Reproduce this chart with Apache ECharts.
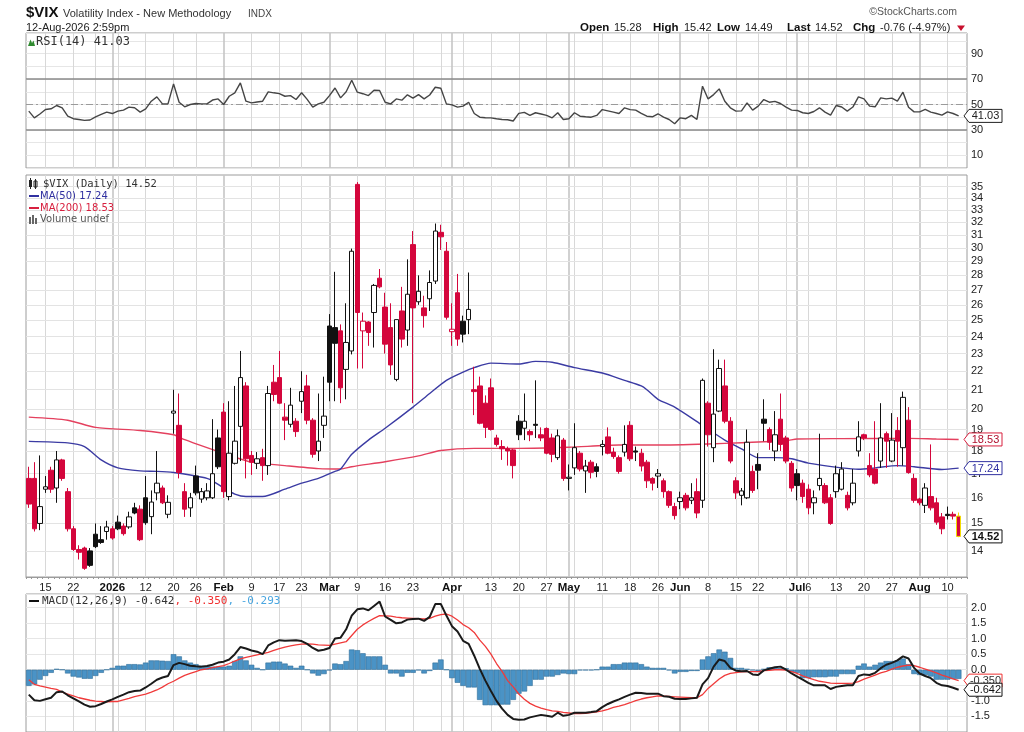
<!DOCTYPE html>
<html><head><meta charset="utf-8">
<script src="https://cdn.jsdelivr.net/npm/echarts@6/dist/echarts.min.js"></script>
<style>html,body{margin:0;padding:0;background:#fff}#c{width:1024px;height:732px}</style>
</head><body><div id="c"></div>
<script>
// ---------- categories (trading days; last one is an empty pad day) ----------
const dates = [
'2025-12-10','2025-12-11','2025-12-12','2025-12-15','2025-12-16','2025-12-17','2025-12-18','2025-12-19','2025-12-22','2025-12-23','2025-12-24','2025-12-26','2025-12-29','2025-12-30','2025-12-31',
'2026-01-02','2026-01-05','2026-01-06','2026-01-07','2026-01-08','2026-01-09','2026-01-12','2026-01-13','2026-01-14','2026-01-15','2026-01-16','2026-01-20','2026-01-21','2026-01-22','2026-01-23','2026-01-26','2026-01-27','2026-01-28','2026-01-29','2026-01-30',
'2026-02-02','2026-02-03','2026-02-04','2026-02-05','2026-02-06','2026-02-09','2026-02-10','2026-02-11','2026-02-12','2026-02-13','2026-02-17','2026-02-18','2026-02-19','2026-02-20','2026-02-23','2026-02-24','2026-02-25','2026-02-26','2026-02-27',
'2026-03-02','2026-03-03','2026-03-04','2026-03-05','2026-03-06','2026-03-09','2026-03-10','2026-03-11','2026-03-12','2026-03-13','2026-03-16','2026-03-17','2026-03-18','2026-03-19','2026-03-20','2026-03-23','2026-03-24','2026-03-25','2026-03-26','2026-03-27','2026-03-30','2026-03-31',
'2026-04-01','2026-04-02','2026-04-06','2026-04-07','2026-04-08','2026-04-09','2026-04-10','2026-04-13','2026-04-14','2026-04-15','2026-04-16','2026-04-17','2026-04-20','2026-04-21','2026-04-22','2026-04-23','2026-04-24','2026-04-27','2026-04-28','2026-04-29','2026-04-30',
'2026-05-01','2026-05-04','2026-05-05','2026-05-06','2026-05-07','2026-05-08','2026-05-11','2026-05-12','2026-05-13','2026-05-14','2026-05-15','2026-05-18','2026-05-19','2026-05-20','2026-05-21','2026-05-22','2026-05-26','2026-05-27','2026-05-28','2026-05-29',
'2026-06-01','2026-06-02','2026-06-03','2026-06-04','2026-06-05','2026-06-08','2026-06-09','2026-06-10','2026-06-11','2026-06-12','2026-06-15','2026-06-16','2026-06-17','2026-06-18','2026-06-22','2026-06-23','2026-06-24','2026-06-25','2026-06-26','2026-06-29','2026-06-30',
'2026-07-01','2026-07-02','2026-07-06','2026-07-07','2026-07-08','2026-07-09','2026-07-10','2026-07-13','2026-07-14','2026-07-15','2026-07-16','2026-07-17','2026-07-20','2026-07-21','2026-07-22','2026-07-23','2026-07-24','2026-07-27','2026-07-28','2026-07-29','2026-07-30','2026-07-31',
'2026-08-03','2026-08-04','2026-08-05','2026-08-06','2026-08-07','2026-08-10','2026-08-11','2026-08-12','2026-08-13'];

// ---------- OHLC ----------
const open = [16.8,16.8,15.0,16.35,17.15,16.4,17.6,16.25,14.8,14.05,
14.1,14.0,14.6,14.4,14.7,14.8,15.05,14.9,14.87,15.6,
15.55,16.0,15.26,16.2,16.4,15.35,19.8,19.2,16.25,15.6,
16.9,15.95,16.0,16.0,18.6,19.85,16.05,17.45,19.15,21.2,
17.8,17.45,17.7,17.35,21.4,21.65,19.6,19.25,19.4,20.4,
21.2,19.45,18.0,19.2,24.65,24.55,24.35,22.1,23.15,35.2,
24.35,24.9,25.5,27.8,25.85,24.55,21.55,25.6,24.4,30.25,
26.2,25.8,26.4,27.6,31.2,29.75,24.3,26.8,24.95,25.05,
21.0,21.2,20.3,21.1,18.6,18.2,18.1,18.05,19.4,19.06,
18.9,19.25,18.75,19.05,18.6,17.7,18.5,16.8,17.25,17.9,
17.12,17.5,17.3,18.2,18.65,17.95,17.7,17.95,19.2,18.0,
17.9,17.5,16.8,16.9,16.7,16.25,15.65,15.85,16.1,15.9,
16.25,15.9,20.3,18.15,19.9,21.2,19.4,16.7,16.1,16.0,
17.1,17.4,19.5,19.0,18.0,19.5,18.6,17.45,17.0,16.6,
16.35,15.8,16.5,16.5,16.0,16.25,16.35,16.1,15.8,18.0,
18.75,17.35,17.2,17.55,18.8,17.55,18.95,18.15,19.45,16.8,
15.95,15.7,16.05,15.8,15.25,15.35,15.35,15.28];
const high = [17.3,17.5,17.8,16.9,17.3,18.0,17.65,16.4,14.9,14.2,
14.15,14.1,15.0,14.9,15.1,14.9,15.3,15.0,15.45,15.8,
15.7,16.9,16.3,18.0,16.5,16.1,21.0,20.8,16.6,16.2,
17.35,16.4,16.6,19.5,19.0,20.3,20.4,21.2,23.15,21.4,
18.0,17.95,18.1,21.2,22.35,23.15,20.3,21.1,19.55,22.0,
21.8,19.55,20.8,21.7,25.4,28.25,24.75,26.1,29.95,35.4,
25.5,24.95,27.4,28.45,26.8,26.1,25.05,27.2,29.15,31.3,
28.0,26.6,28.35,31.9,31.8,30.45,26.1,28.1,25.3,28.2,
22.25,21.7,20.7,21.6,18.75,18.5,18.2,18.1,19.7,20.8,
19.0,21.5,19.1,19.1,18.8,19.0,18.6,17.4,19.3,18.0,
17.6,17.6,17.45,18.5,19.1,18.15,17.8,19.2,19.4,18.2,
18.1,17.6,16.85,17.2,16.8,16.3,15.8,16.25,16.2,16.6,
16.8,21.6,20.4,23.25,22.65,22.65,19.6,16.85,16.4,19.0,
17.35,17.9,20.5,19.1,19.9,20.8,18.7,17.55,17.2,16.75,
16.55,16.3,18.8,16.6,16.15,17.35,17.5,16.25,17.2,19.4,
18.8,17.9,19.4,20.3,18.9,19.8,19.6,20.9,20.1,17.0,
16.0,16.6,18.3,16.0,15.4,15.65,15.45,15.42];
const low = [15.6,14.7,14.75,16.2,16.2,15.8,16.7,14.7,14.0,13.7,
13.35,13.45,14.1,14.25,14.4,14.4,14.75,14.55,14.8,15.35,
14.35,14.95,14.6,15.9,15.75,15.2,18.8,16.8,15.25,15.25,
16.1,15.8,15.9,15.95,17.2,16.0,15.9,17.4,17.55,16.8,
16.95,17.2,16.7,16.95,20.4,20.25,18.5,19.1,18.65,19.8,
19.25,17.7,17.55,18.6,20.4,20.4,20.3,20.5,22.95,22.15,
22.15,23.45,23.35,27.1,23.0,21.8,21.45,23.35,23.45,20.3,
26.0,24.55,25.6,27.4,29.85,25.05,23.45,23.45,23.65,24.15,
19.7,19.25,18.6,18.95,18.2,17.6,17.35,16.8,18.5,18.5,
18.45,18.6,18.45,17.85,17.5,17.6,16.7,16.3,16.95,17.1,
16.2,16.8,16.85,17.8,17.85,17.65,17.0,17.75,17.55,17.55,
17.1,16.4,16.3,16.4,16.0,15.6,15.15,15.55,15.5,15.75,
15.2,15.6,18.2,17.5,19.85,19.3,17.45,15.95,15.7,15.95,
16.2,16.35,18.45,18.05,17.55,18.0,17.45,16.25,15.9,15.8,
15.35,15.35,16.3,15.75,14.95,16.0,16.3,15.5,15.7,17.75,
18.5,16.85,16.55,17.25,17.25,17.5,17.3,17.35,17.0,15.8,
15.7,15.4,15.5,14.95,14.6,15.15,15.15,14.49];
const close = [15.75,14.8,15.65,16.45,16.35,17.6,16.8,14.8,14.05,13.95,
13.4,13.5,14.15,14.3,14.87,14.46,14.8,14.62,15.25,15.4,
14.4,15.03,15.83,16.6,15.8,15.82,19.9,17.05,15.55,16.0,
16.2,16.25,16.28,17.0,17.3,16.25,17.9,18.45,21.65,17.65,
17.5,17.65,17.35,20.8,20.75,20.3,19.45,20.2,18.9,20.9,
19.45,17.85,18.45,19.65,21.4,23.6,21.1,23.65,29.75,25.5,
24.95,24.25,27.3,27.2,23.55,22.35,25.05,23.85,26.7,25.8,
26.9,25.3,27.5,31.3,30.85,25.2,24.45,23.85,24.15,25.7,
20.9,19.3,19.1,19.0,18.3,18.1,18.0,17.35,18.75,19.4,
18.75,19.2,18.6,17.9,17.85,18.7,16.8,16.85,18.15,17.2,
17.33,17.06,17.1,18.3,17.9,17.75,17.1,18.3,17.65,17.95,
17.33,16.7,16.6,17.0,16.25,15.7,15.3,16.0,15.6,16.0,
15.4,21.5,18.75,19.75,22.15,19.4,17.55,16.2,16.28,18.4,
16.3,17.15,19.3,18.4,18.75,18.3,17.55,16.4,16.5,16.05,
15.6,16.0,16.8,15.8,15.0,17.0,17.2,15.6,16.6,18.65,
18.6,16.95,16.6,18.6,18.45,18.5,18.45,20.6,17.05,15.9,
15.8,16.4,15.6,15.05,14.8,15.3,15.28,14.52];

// ---------- moving averages: [day index, value] read at points along each curve ----------
const ma50Pts = [[0,18.44],[7,18.37],[10,18.2],[13,17.6],[16,17.25],[20,17.12],[23,17.1],[26,17.05],[30,16.9],[32,16.8],[33,16.7],[35,16.4],[37,16.15],[39,16.05],[42,16.05],[46,16.35],[49,16.6],[52,16.8],[55,17.1],[56,17.2],[58,17.85],[61,18.5],[64,19.06],[69,20.1],[72,20.8],[75,21.5],[78,21.95],[80,22.2],[83,22.45],[88,22.4],[91,22.55],[94,22.5],[98,22.2],[103,21.9],[107,21.5],[110,21.2],[111,21.0],[113,20.5],[116,20.1],[121,19.2],[125,18.5],[128,18.1],[131,17.7],[134,17.7],[137,17.65],[140,17.46],[146,17.25],[149,17.19],[152,17.25],[156,17.35],[159,17.3],[164,17.18],[167,17.24]];
const ma200Pts = [[0,19.6],[7,19.45],[12,19.1],[20,18.95],[26,18.75],[28,18.52],[32,18.15],[37,17.72],[40,17.5],[46,17.35],[52,17.22],[56,17.2],[58,17.3],[64,17.52],[70,17.78],[74,18.02],[80,18.12],[88,18.12],[97,18.17],[106,18.27],[113,18.27],[122,18.32],[128,18.38],[136,18.47],[138,18.55],[146,18.57],[158,18.58],[163,18.55],[167,18.53]];

// ---------- RSI(14) ----------
const rsi = [44.8,39.5,42.5,46.1,46.6,49.2,47.4,40.8,38.8,38.2,
37.5,37.8,40.3,42.2,44.0,42.9,44.8,45.6,47.9,47.4,
44.0,46.6,52.6,56.0,50.5,50.5,66.2,51.8,48.2,50.0,
50.8,50.5,50.5,53.5,54.4,50.0,56.5,59.2,67.0,52.6,
51.3,52.0,52.6,59.9,59.2,58.6,56.5,57.0,53.9,59.2,
54.0,47.9,50.5,51.8,57.0,63.0,55.2,60.0,69.1,59.7,
58.5,57.0,61.2,61.0,51.8,50.5,54.4,53.4,57.6,55.0,
57.8,54.4,57.5,63.6,62.8,50.5,49.7,47.9,48.7,51.8,
42.9,40.0,39.6,39.5,38.8,38.2,38.0,37.0,43.0,43.8,
41.4,43.5,42.5,41.4,39.5,43.5,38.2,38.8,43.5,40.8,
40.3,40.0,41.4,46.0,45.0,44.0,42.9,47.4,46.0,45.6,
43.0,40.8,40.3,42.7,40.0,38.2,34.8,39.5,38.8,41.4,
38.2,64.4,54.4,57.8,62.3,52.6,47.4,44.8,45.0,51.3,
45.6,48.7,53.9,51.8,52.5,50.8,48.0,45.6,45.3,43.5,
42.9,44.5,47.4,44.0,41.6,49.2,48.0,44.8,48.0,56.0,
54.4,48.7,48.2,55.2,54.4,55.0,52.6,59.7,47.9,44.2,
44.2,46.1,44.0,42.9,41.6,44.2,42.9,41.03];

// ---------- MACD(12,26,9) ----------
const macd = [-0.80,-0.98,-1.00,-0.95,-0.90,-0.72,-0.70,-0.82,-0.92,-1.02,
-1.12,-1.19,-1.17,-1.10,-1.02,-0.95,-0.87,-0.80,-0.72,-0.68,
-0.67,-0.57,-0.45,-0.32,-0.25,-0.20,0.15,0.22,0.18,0.13,
0.11,0.10,0.12,0.16,0.23,0.26,0.33,0.50,0.73,0.68,
0.62,0.58,0.50,0.78,0.88,0.95,0.93,0.94,0.95,0.92,
0.83,0.70,0.61,0.64,0.70,1.00,1.03,1.30,1.74,1.94,
1.97,1.91,2.05,2.19,1.71,1.60,1.49,1.52,1.61,1.63,
1.64,1.57,1.70,2.11,2.11,1.74,1.40,1.23,0.93,0.83,
0.45,0.03,-0.35,-0.68,-1.00,-1.25,-1.45,-1.58,-1.61,-1.60,
-1.53,-1.49,-1.45,-1.48,-1.51,-1.38,-1.48,-1.45,-1.38,-1.38,
-1.38,-1.36,-1.33,-1.20,-1.10,-1.02,-0.95,-0.87,-0.80,-0.74,
-0.75,-0.77,-0.77,-0.77,-0.85,-0.87,-0.93,-0.94,-0.94,-0.92,
-0.90,-0.47,-0.27,0.10,0.33,0.28,0.06,-0.03,-0.05,-0.04,
-0.15,-0.17,-0.02,0.03,0.08,0.10,0.00,-0.12,-0.22,-0.32,
-0.42,-0.50,-0.50,-0.50,-0.62,-0.55,-0.52,-0.50,-0.50,-0.20,
-0.15,-0.17,-0.10,0.05,0.16,0.22,0.30,0.43,0.36,0.06,
-0.12,-0.20,-0.27,-0.42,-0.50,-0.52,-0.58,-0.642];
const signal = [-0.32,-0.47,-0.52,-0.56,-0.60,-0.63,-0.72,-0.78,-0.84,-0.90,
-0.94,-0.98,-1.01,-1.02,-1.03,-1.02,-1.02,-0.97,-0.92,-0.86,
-0.82,-0.78,-0.72,-0.65,-0.56,-0.45,-0.37,-0.27,-0.18,-0.12,
-0.06,0.00,0.03,0.07,0.10,0.13,0.20,0.28,0.35,0.40,
0.44,0.48,0.52,0.56,0.62,0.68,0.73,0.77,0.80,0.82,
0.83,0.82,0.80,0.79,0.78,0.82,0.86,0.90,1.10,1.30,
1.44,1.55,1.65,1.74,1.73,1.72,1.69,1.67,1.66,1.65,
1.64,1.63,1.65,1.72,1.77,1.79,1.72,1.60,1.45,1.35,
1.20,0.95,0.75,0.50,0.20,-0.05,-0.35,-0.55,-0.78,-0.95,
-1.08,-1.17,-1.23,-1.28,-1.32,-1.34,-1.37,-1.39,-1.41,-1.41,
-1.40,-1.38,-1.35,-1.32,-1.27,-1.21,-1.17,-1.12,-1.06,-0.99,
-0.94,-0.90,-0.87,-0.84,-0.85,-0.86,-0.87,-0.88,-0.89,-0.90,
-0.90,-0.80,-0.60,-0.45,-0.30,-0.18,-0.12,-0.09,-0.07,-0.06,
-0.06,-0.06,-0.03,-0.02,0.00,0.00,-0.01,-0.06,-0.12,-0.20,
-0.26,-0.32,-0.37,-0.40,-0.43,-0.44,-0.44,-0.44,-0.43,-0.38,
-0.30,-0.24,-0.17,-0.10,-0.05,0.02,0.08,0.12,0.15,0.13,
0.08,0.02,-0.04,-0.10,-0.17,-0.23,-0.29,-0.35];
const hist = [-0.52,-0.47,-0.32,-0.20,-0.10,0.03,0.00,-0.12,-0.22,-0.25,
-0.29,-0.29,-0.20,-0.10,0.00,0.06,0.13,0.13,0.18,0.18,
0.17,0.23,0.30,0.30,0.29,0.28,0.50,0.43,0.30,0.23,
0.18,0.13,0.12,0.10,0.10,0.10,0.13,0.28,0.43,0.30,
0.16,0.06,0.00,0.23,0.26,0.26,0.20,0.13,0.06,0.13,
0.00,-0.12,-0.19,-0.14,-0.02,0.20,0.18,0.28,0.65,0.63,
0.53,0.43,0.43,0.43,0.16,-0.12,-0.12,-0.22,-0.10,-0.10,
-0.02,-0.12,-0.04,0.23,0.33,0.00,-0.27,-0.42,-0.52,-0.57,
-0.57,-0.97,-1.14,-1.14,-1.14,-1.12,-1.12,-0.97,-0.77,-0.70,
-0.52,-0.32,-0.32,-0.22,-0.22,-0.17,-0.12,-0.14,-0.14,-0.02,
-0.02,-0.02,0.00,0.10,0.10,0.18,0.18,0.23,0.23,0.23,
0.18,0.10,0.06,0.06,0.06,-0.02,-0.12,-0.07,-0.07,-0.04,
-0.04,0.33,0.43,0.53,0.65,0.58,0.38,0.06,0.06,0.03,
-0.02,-0.07,0.03,0.08,0.08,0.05,0.05,-0.07,-0.10,-0.27,
-0.27,-0.24,-0.24,-0.24,-0.22,-0.22,-0.14,-0.14,-0.14,0.13,
0.20,0.10,0.16,0.23,0.28,0.28,0.30,0.36,0.18,-0.14,
-0.17,-0.17,-0.22,-0.32,-0.32,-0.32,-0.30,-0.293];

// ---------- tick labels / grid dates ----------
const priceTicks = [14,15,16,17,18,19,20,21,22,23,24,25,26,27,28,29,30,31,32,33,34,35];
const rsiTicks = [10,30,50,70,90];
const macdTicks = [-1.5,-1.0,-0.5,0.0,0.5,1.0,1.5,2.0];
const xLabelDates = ['2025-12-15','2025-12-22','2026-01-02','2026-01-12','2026-01-20','2026-01-26','2026-02-02','2026-02-09','2026-02-17','2026-02-23','2026-03-02','2026-03-09','2026-03-16','2026-03-23','2026-04-01','2026-04-13','2026-04-20','2026-04-27','2026-05-01','2026-05-11','2026-05-18','2026-05-26','2026-06-01','2026-06-08','2026-06-15','2026-06-22','2026-07-01','2026-07-06','2026-07-13','2026-07-20','2026-07-27','2026-08-03','2026-08-10'];
const xLabelTexts = ['15','22','2026','12','20','26','Feb','9','17','23','Mar','9','16','23','Apr','13','20','27','May','11','18','26','Jun','8','15','22','Jul','6','13','20','27','Aug','10'];
const weekLineDates = ['2025-12-15','2025-12-22','2025-12-29','2026-01-05','2026-01-12','2026-01-20','2026-01-26','2026-02-09','2026-02-17','2026-02-23','2026-03-09','2026-03-16','2026-03-23','2026-03-30','2026-04-06','2026-04-13','2026-04-20','2026-04-27','2026-05-04','2026-05-11','2026-05-18','2026-05-26','2026-06-08','2026-06-15','2026-06-22','2026-06-29','2026-07-06','2026-07-13','2026-07-20','2026-07-27','2026-08-10'];
const monthLineDates = ['2026-01-02','2026-02-02','2026-03-02','2026-04-01','2026-05-01','2026-06-01','2026-07-01','2026-08-03'];

// ---------- build ----------
const FONT = '"Liberation Sans", Arial, sans-serif';
const MONO = '"DejaVu Sans Mono", monospace';
const RED = '#d4063c';
const labelMap = {};
xLabelDates.forEach((d, i) => { labelMap[d] = xLabelTexts[i]; });

// colour rule: black when close >= previous close, red otherwise; hollow when close > open
const candleData = open.map((o, i) => {
  const up = i > 0 && close[i] >= close[i - 1];
  const col = up ? '#111111' : RED;
  const fill = close[i] > o ? '#ffffff' : col;
  const bc = i === open.length - 1 ? '#f2dc00' : col;
  return { value: [o, close[i], low[i], high[i]],
    itemStyle: { color: fill, color0: fill, borderColor: bc, borderColor0: bc, borderWidth: 1 } };
});

function vLines() {
  const out = [];
  weekLineDates.forEach(d => out.push({ xAxis: d, lineStyle: { color: '#d8d8d8', width: 1, type: 'solid' } }));
  monthLineDates.forEach(d => out.push({ xAxis: d, lineStyle: { color: '#c6c6c6', width: 1.6, type: 'solid' } }));
  return out;
}
const priceHLines = priceTicks.map(v => ({
  yAxis: v, lineStyle: { color: '#e3e3e3', width: 1, type: 'solid' },
  label: { show: true, position: 'end', formatter: String(v), color: '#222', fontSize: 11, fontFamily: FONT, distance: 4 }
}));
const rsiHLines = [
  { yAxis: 70, lineStyle: { color: '#8a8a8a', width: 1.5, type: 'solid' } },
  { yAxis: 30, lineStyle: { color: '#8a8a8a', width: 1.5, type: 'solid' } },
  { yAxis: 50, lineStyle: { color: '#9a9a9a', width: 1, type: [7, 3, 2, 3] } }
];
const ml = (data) => ({ silent: true, symbol: ['none', 'none'], z: 1, animation: false, label: { show: false }, data });

const gridBase = { left: 26, right: 57, show: true, borderColor: '#9c9c9c', borderWidth: 1, backgroundColor: '#ffffff' };
const option = {
  animation: false,
  backgroundColor: '#ffffff',
  grid: [
    Object.assign({ top: 33, height: 135 }, gridBase),
    Object.assign({ top: 175, height: 402 }, gridBase),
    Object.assign({ top: 594, height: 146.3 }, gridBase)
  ],
  xAxis: [0, 1, 2].map(g => ({
    type: 'category', gridIndex: g, data: dates, boundaryGap: true,
    axisLine: { show: g === 1, lineStyle: { color: '#9c9c9c' } },
    axisTick: { show: g === 1, interval: 0, length: 2, lineStyle: { color: '#999' } },
    splitLine: { show: false },
    axisLabel: g === 1 ? {
      show: true, interval: (idx, val) => labelMap[val] !== undefined,
      formatter: (val) => {
        const t = labelMap[val];
        if (t === undefined) return '';
        return isNaN(+t) || t.length === 4 ? '{b|' + t + '}' : t;
      },
      color: '#222', fontSize: 11, fontFamily: FONT, margin: 5,
      rich: { b: { fontWeight: 'bold', fontSize: 11.5, color: '#111', fontFamily: FONT } }
    } : { show: false }
  })),
  yAxis: [
    { type: 'value', gridIndex: 0, position: 'right', min: 0, max: 106.3, interval: 10,
      axisLine: { show: false }, axisTick: { show: false },
      axisLabel: { color: '#222', fontSize: 11, fontFamily: FONT, margin: 4,
        formatter: v => (Math.abs(v - Math.round(v)) < 1e-6 && rsiTicks.indexOf(Math.round(v)) >= 0) ? String(Math.round(v)) : '' },
      splitLine: { lineStyle: { color: '#e6e6e6' } } },
    { type: 'log', logBase: 10, gridIndex: 1, position: 'right', min: 13.11, max: 36.04,
      axisLine: { show: false }, axisTick: { show: false }, axisLabel: { show: false }, splitLine: { show: false } },
    { type: 'value', gridIndex: 2, position: 'right', min: -2, max: 2.433, interval: 0.5,
      axisLine: { show: false }, axisTick: { show: false },
      axisLabel: { color: '#222', fontSize: 11, fontFamily: FONT, margin: 4,
        formatter: v => {
          const r = Math.round(v * 2) / 2;
          return (Math.abs(v - r) < 1e-6 && macdTicks.indexOf(r) >= 0) ? r.toFixed(1) : '';
        } },
      splitLine: { lineStyle: { color: '#e6e6e6' } } }
  ],
  series: [
    { type: 'line', name: 'RSI', xAxisIndex: 0, yAxisIndex: 0, data: rsi, symbol: 'none', z: 3,
      lineStyle: { color: '#454545', width: 1.4 }, markLine: ml(vLines().concat(rsiHLines)) },
    { type: 'line', name: 'MA200', xAxisIndex: 1, yAxisIndex: 1, data: ma200Pts, smooth: 0.25, symbol: 'none', z: 3,
      lineStyle: { color: '#e4405e', width: 1.4 }, markLine: ml(vLines().concat(priceHLines)) },
    { type: 'line', name: 'MA50', xAxisIndex: 1, yAxisIndex: 1, data: ma50Pts, smooth: 0.25, symbol: 'none', z: 3,
      lineStyle: { color: '#3b3ba3', width: 1.4 } },
    { type: 'candlestick', name: 'VIX', xAxisIndex: 1, yAxisIndex: 1, data: candleData, barWidth: 5, z: 4 },
    { type: 'bar', name: 'Hist', xAxisIndex: 2, yAxisIndex: 2, data: hist, barCategoryGap: '0%', z: 2,
      itemStyle: { color: '#4a93c6', borderColor: '#2f6d99', borderWidth: 0.6 }, markLine: ml(vLines()) },
    { type: 'line', name: 'Signal', xAxisIndex: 2, yAxisIndex: 2, data: signal, symbol: 'none', z: 3,
      lineStyle: { color: '#f03a3a', width: 1.3 } },
    { type: 'line', name: 'MACD', xAxisIndex: 2, yAxisIndex: 2, data: macd, symbol: 'none', z: 4,
      lineStyle: { color: '#1a1a1a', width: 2 } }
  ]
};

const chart = echarts.init(document.getElementById('c'), null, { renderer: 'canvas' });
chart.setOption(option);

// ---------- text, legends, value boxes ----------
function txt(x, y, text, font, fill, align) {
  align = align || 'left';
  return { type: 'text', x: x, y: y, z: 100, silent: true,
    style: { text: text, font: font, fill: fill, align: align, verticalAlign: 'middle' } };
}
function seg(x1, y1, x2, y2, color, w) {
  return { type: 'line', z: 100, silent: true, shape: { x1, y1, x2, y2 }, style: { stroke: color, lineWidth: w } };
}
function box(y, text, stroke, fill, bold) {
  const x0 = 964, x1 = 1002, h = 6.5;
  return [
    { type: 'polygon', z: 100, silent: true,
      shape: { points: [[x0, y], [x0 + 5, y - h], [x1, y - h], [x1, y + h], [x0 + 5, y + h]] },
      style: { fill: '#ffffff', stroke: stroke, lineWidth: 1 } },
    txt((x0 + 5 + x1) / 2, y + 0.5, text, (bold ? 'bold ' : '') + '11px ' + FONT, fill, 'center')
  ];
}
const yP = v => chart.convertToPixel({ yAxisIndex: 1 }, v);
const yR = v => chart.convertToPixel({ yAxisIndex: 0 }, v);
const yM = v => chart.convertToPixel({ yAxisIndex: 2 }, v);

const last = close.length - 1;
const els = [
  txt(26, 13, '$VIX', 'bold 15px ' + FONT, '#111'),
  txt(63, 13.5, 'Volatility Index - New Methodology', '11px ' + FONT, '#333'),
  txt(248, 14, 'INDX', '10px ' + FONT, '#444'),
  txt(26, 28, '12-Aug-2026 2:59pm', '11px ' + FONT, '#222'),
  txt(957, 12, '\u00a9StockCharts.com', '10.5px ' + FONT, '#555', 'right'),
  txt(580, 28, 'Open', 'bold 11.5px ' + FONT, '#111'),
  txt(614, 28, open[last].toFixed(2), '11px ' + FONT, '#222'),
  txt(653, 28, 'High', 'bold 11.5px ' + FONT, '#111'),
  txt(684, 28, high[last].toFixed(2), '11px ' + FONT, '#222'),
  txt(717, 28, 'Low', 'bold 11.5px ' + FONT, '#111'),
  txt(745, 28, low[last].toFixed(2), '11px ' + FONT, '#222'),
  txt(787, 28, 'Last', 'bold 11.5px ' + FONT, '#111'),
  txt(815, 28, close[last].toFixed(2), '11px ' + FONT, '#222'),
  txt(853, 28, 'Chg', 'bold 11.5px ' + FONT, '#111'),
  txt(880, 28, '-0.76 (-4.97%)', '11px ' + FONT, '#222'),
  { type: 'polygon', z: 100, silent: true, shape: { points: [[957, 25.5], [965, 25.5], [961, 31]] }, style: { fill: '#c8102e' } },
  // RSI legend
  { type: 'polygon', z: 100, silent: true, shape: { points: [[28, 46], [30.5, 39.5], [32, 43], [33.5, 40.5], [35, 46]] }, style: { fill: '#2f8a2f' } },
  txt(36, 42, 'RSI(14) ' + rsi[last].toFixed(2), '12px ' + MONO, '#333'),
  // price legend
  { type: 'rect', z: 100, silent: true, shape: { x: 29, y: 180, width: 3, height: 7 }, style: { fill: '#222' } },
  { type: 'rect', z: 100, silent: true, shape: { x: 34, y: 181, width: 3, height: 6 }, style: { fill: '#fff', stroke: '#222', lineWidth: 1 } },
  seg(30.5, 178, 30.5, 189, '#222', 1), seg(35.5, 179, 35.5, 189, '#222', 1),
  txt(43, 184, '$VIX (Daily) ' + close[last].toFixed(2), '10.5px ' + MONO, '#333'),
  seg(29, 196, 39, 196, '#3030a0', 2),
  txt(40, 196, 'MA(50) 17.24', '10px "DejaVu Sans", sans-serif', '#3030a0'),
  seg(29, 208, 39, 208, '#d8203f', 2),
  txt(40, 208, 'MA(200) 18.53', '10px "DejaVu Sans", sans-serif', '#d8203f'),
  { type: 'rect', z: 100, silent: true, shape: { x: 29, y: 217, width: 2, height: 7 }, style: { fill: '#666' } },
  { type: 'rect', z: 100, silent: true, shape: { x: 32, y: 215, width: 2, height: 9 }, style: { fill: '#666' } },
  { type: 'rect', z: 100, silent: true, shape: { x: 35, y: 218, width: 2, height: 6 }, style: { fill: '#666' } },
  txt(40, 219.5, 'Volume undef', '10px "DejaVu Sans", sans-serif', '#555'),
  // MACD legend
  seg(29, 601, 39, 601, '#111', 2),
  txt(42, 601, 'MACD(12,26,9) ' + macd[last].toFixed(3), '11px ' + MONO, '#333'),
  txt(174.4, 601, ', ' + signal[last].toFixed(3), '11px ' + MONO, '#f03030'),
  txt(227.4, 601, ', ' + hist[last].toFixed(3), '11px ' + MONO, '#4aa6e0')
].concat(
  box(yR(rsi[last]), rsi[last].toFixed(2), '#222', '#222', false),
  box(yP(18.53), '18.53', '#d8203f', '#b0102e', false),
  box(yP(17.24), '17.24', '#3030a0', '#3030a0', false),
  box(yP(close[last]), close[last].toFixed(2), '#111', '#111', true),
  box(yM(signal[last]), signal[last].toFixed(3), '#f03030', '#333', false),
  box(yM(macd[last]), macd[last].toFixed(3), '#111', '#111', false)
);
chart.setOption({ graphic: els });
</script></body></html>
